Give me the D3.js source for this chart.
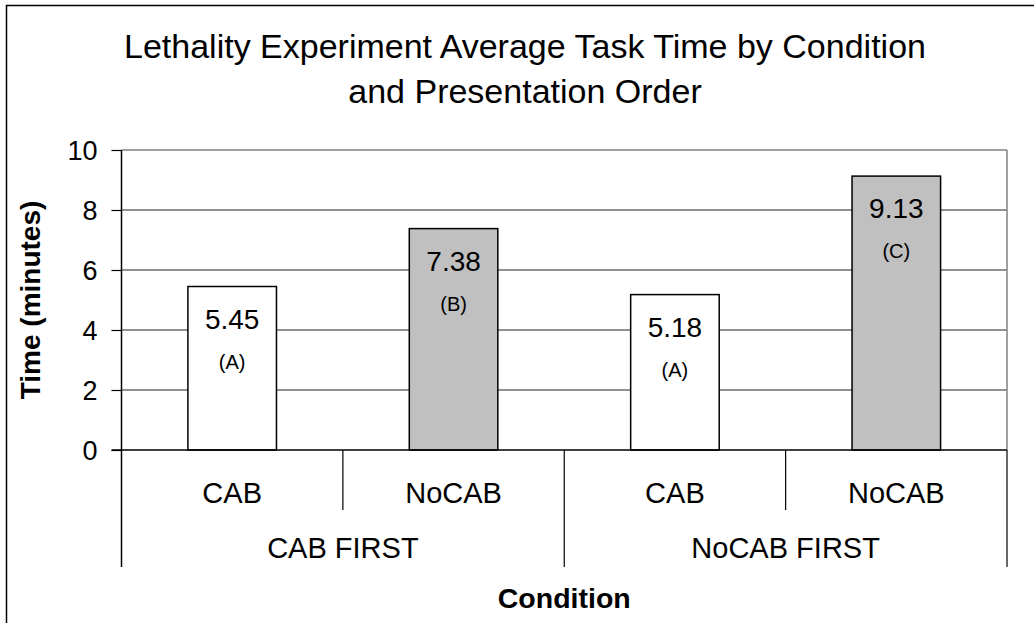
<!DOCTYPE html>
<html>
<head>
<meta charset="utf-8">
<script src="https://cdn.jsdelivr.net/npm/d3@7/dist/d3.min.js"></script>
<style>
  html, body { margin: 0; padding: 0; background: #fff; }
  svg { display: block; font-family: Arial, "Liberation Sans", sans-serif; }
</style>
</head>
<body>
<svg id="chart" width="1034" height="623"></svg>
<script>
const conditions = ["CAB", "NoCAB", "CAB", "NoCAB"];
const orders = ["CAB FIRST", "NoCAB FIRST"];
const values = [5.45, 7.38, 5.18, 9.13];
const letters = ["(A)", "(B)", "(A)", "(C)"];
const yTicks = [0, 2, 4, 6, 8, 10];
const titleLines = ["Lethality Experiment Average Task Time by Condition", "and Presentation Order"];
const yTitle = "Time (minutes)";
const xTitle = "Condition";

const svg = d3.select("#chart");
const pLeft = 121.5, pRight = 1007, pTop = 150, pBottom = 450;

// outer chart border (only left/top visible)
svg.append("rect").attr("x", 6.5).attr("y", 5.5).attr("width", 1100).attr("height", 700)
  .attr("fill", "none").attr("stroke", "#000").attr("stroke-width", 1.5);

const idx = values.map((d, i) => i);
const x = d3.scaleBand().domain(idx).range([pLeft, pRight]).paddingInner(0.6).paddingOuter(0.3);
const xc = d3.scaleBand().domain(idx).range([pLeft, pRight]).padding(0);
const xo = d3.scaleBand().domain(orders).range([pLeft, pRight]).padding(0);
const y = d3.scaleLinear().domain([0, 10]).range([pBottom, pTop]);

// gridlines
svg.append("g").selectAll("line").data(yTicks.filter(t => t > 0 && t < 10)).join("line")
  .attr("x1", pLeft).attr("x2", pRight).attr("y1", d => y(d)).attr("y2", d => y(d))
  .attr("stroke", "#222").attr("stroke-width", 1);

// plot border top/right
svg.append("line").attr("x1", pLeft).attr("x2", pRight).attr("y1", y(10)).attr("y2", y(10))
  .attr("stroke", "#808080").attr("stroke-width", 1.5);
svg.append("line").attr("x1", pRight).attr("x2", pRight).attr("y1", y(10)).attr("y2", y(0))
  .attr("stroke", "#808080").attr("stroke-width", 1.5);

// bars
svg.append("g").selectAll("rect").data(idx).join("rect")
  .attr("x", i => x(i)).attr("width", x.bandwidth())
  .attr("y", i => y(values[i])).attr("height", i => y(0) - y(values[i]))
  .attr("fill", i => conditions[i] === "CAB" ? "#ffffff" : "#c0c0c0")
  .attr("stroke", "#000").attr("stroke-width", 1.5);

// value labels
svg.append("g").selectAll("text").data(idx).join("text")
  .attr("x", i => x(i) + x.bandwidth() / 2).attr("y", i => y(values[i]) + 42)
  .attr("text-anchor", "middle").attr("font-size", 28).attr("fill", "#000")
  .text(i => values[i].toFixed(2));
svg.append("g").selectAll("text").data(idx).join("text")
  .attr("x", i => x(i) + x.bandwidth() / 2).attr("y", i => y(values[i]) + 82)
  .attr("text-anchor", "middle").attr("font-size", 20).attr("fill", "#000")
  .text(i => letters[i]);

// y axis
const yAxis = d3.axisLeft(y).tickValues(yTicks).tickSize(10).tickPadding(14).tickFormat(d3.format("d"));
const yg = svg.append("g").attr("transform", `translate(${pLeft},0)`).call(yAxis);
yg.select(".domain").remove();
yg.selectAll(".tick line").attr("stroke", "#000").attr("stroke-width", 1.2);
yg.selectAll(".tick text").attr("font-size", 27).attr("font-family", "Arial, 'Liberation Sans', sans-serif").attr("fill", "#000").attr("dy", "0.36em");
svg.append("line").attr("x1", pLeft).attr("x2", pLeft).attr("y1", pTop).attr("y2", 567)
  .attr("stroke", "#000").attr("stroke-width", 1.5);

// x axis baseline
svg.append("line").attr("x1", pLeft - 10).attr("x2", pRight).attr("y1", pBottom).attr("y2", pBottom)
  .attr("stroke", "#000").attr("stroke-width", 1.5);

// inner category dividers
svg.append("g").selectAll("line").data([1, 3]).join("line")
  .attr("x1", i => xc(i)).attr("x2", i => xc(i)).attr("y1", pBottom).attr("y2", 510)
  .attr("stroke", "#000").attr("stroke-width", 1.2);
// outer group dividers
svg.append("g").selectAll("line").data(orders.slice(1).concat(["__end"])).join("line")
  .attr("x1", d => d === "__end" ? pRight : xo(d)).attr("x2", d => d === "__end" ? pRight : xo(d))
  .attr("y1", pBottom).attr("y2", 567)
  .attr("stroke", "#000").attr("stroke-width", 1.2);

// category labels
svg.append("g").selectAll("text").data(idx).join("text")
  .attr("x", i => xc(i) + xc.bandwidth() / 2).attr("y", 503)
  .attr("text-anchor", "middle").attr("font-size", 29).attr("fill", "#000")
  .text(i => conditions[i]);
svg.append("g").selectAll("text").data(orders).join("text")
  .attr("x", d => xo(d) + xo.bandwidth() / 2).attr("y", 558)
  .attr("text-anchor", "middle").attr("font-size", 29).attr("fill", "#000")
  .text(d => d);

// axis titles
svg.append("text").attr("x", (pLeft + pRight) / 2).attr("y", 608)
  .attr("text-anchor", "middle").attr("font-size", 28.5).attr("font-weight", "bold").text(xTitle);
svg.append("text").attr("transform", `translate(40,${(pTop + pBottom) / 2}) rotate(-90)`)
  .attr("text-anchor", "middle").attr("font-size", 28).attr("font-weight", "bold").text(yTitle);

// title
svg.append("g").selectAll("text").data(titleLines).join("text")
  .attr("x", 525).attr("y", (d, i) => 58 + i * 45)
  .attr("text-anchor", "middle").attr("font-size", 34).attr("fill", "#000").text(d => d);
</script>
</body>
</html>
